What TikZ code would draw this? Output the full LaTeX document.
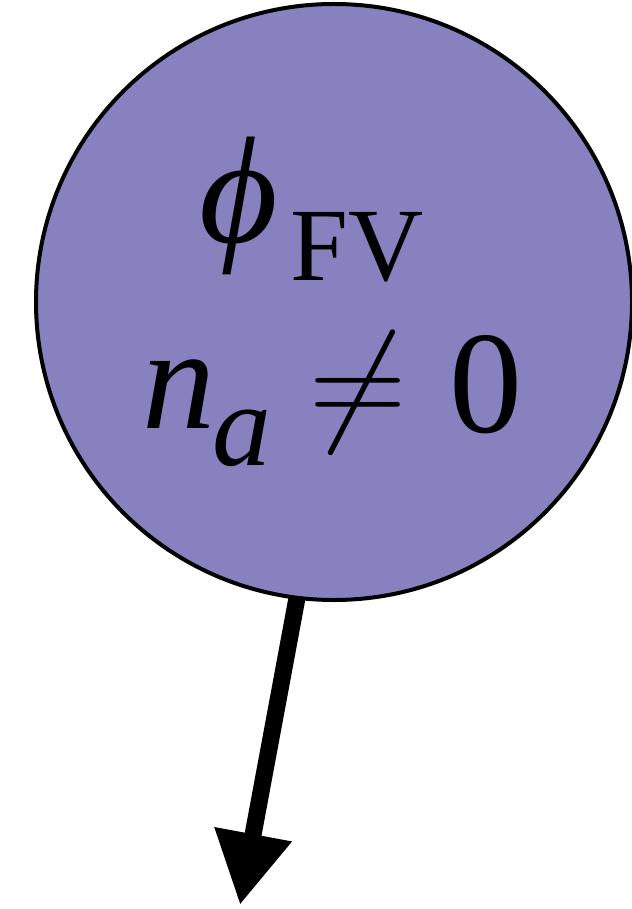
\RequirePackage{fix-cm}
\documentclass[tikz,border=0pt]{standalone}
\usepackage{fontspec}
\setmainfont{Liberation Serif}
\usetikzlibrary{arrows.meta}
\definecolor{bubble}{HTML}{8782BF}
\tikzset{
  bubblestyle/.style={circle, draw=black, line width=4pt, fill=bubble, minimum size=596pt, inner sep=0pt},
  bigtext/.style={font=\fontsize{146}{160}\selectfont, inner sep=0pt, anchor=base west},
  subtext/.style={font=\fontsize{104}{110}\selectfont, inner sep=0pt, anchor=base west},
  flow/.style={line width=17pt, -{Triangle[length=72pt, width=74pt]}}
}
\begin{document}
\begin{tikzpicture}[x=1pt,y=-1pt]
\useasboundingbox (0,0) rectangle (631,909);
\node[bubblestyle] (c) at (334,302) {};
\node[font=\fontsize{152}{160}\selectfont, inner sep=0pt, anchor=base west] (phi) at (199,242) {\itshape ϕ};
\node[subtext] (fv) at (290,280) {FV};
\node[bigtext] (n) at (142,428) {\itshape n};
\node[subtext, font=\fontsize{118}{120}\selectfont] (a) at (212,465) {\itshape a};
\node[inner sep=0pt, font=\fontsize{135}{140}\selectfont] (ne) at (358,393) {$\neq$};
\node[bigtext] (zero) at (449,432) {0};
\coordinate (s) at (297,598);
\coordinate (t) at (240,905);
\draw[flow] (s) -- (t);
\end{tikzpicture}
\end{document}
